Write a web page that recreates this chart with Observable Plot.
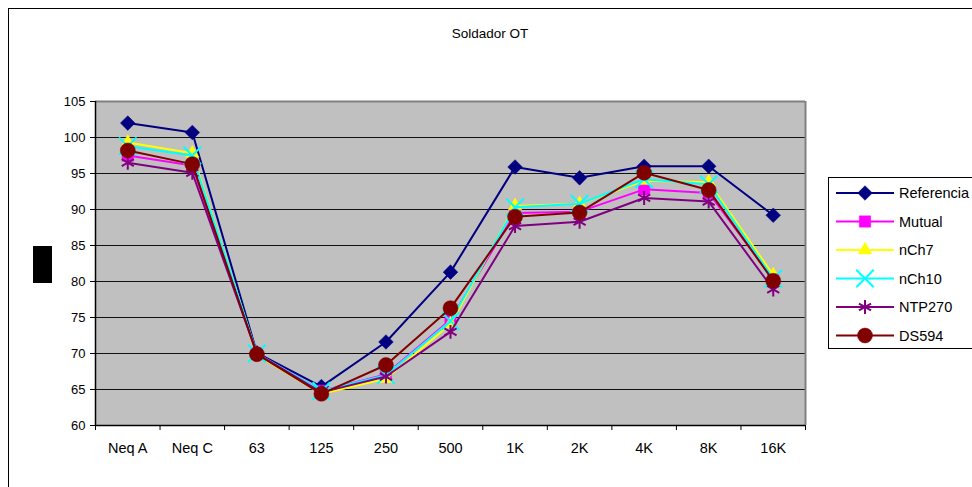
<!DOCTYPE html>
<html>
<head>
<meta charset="utf-8">
<script src="https://cdn.jsdelivr.net/npm/d3@7"></script>
<script src="https://cdn.jsdelivr.net/npm/@observablehq/plot@0.6"></script>
<style>
  html, body { margin: 0; padding: 0; background: #fff; overflow: hidden; }
  #wrap { position: relative; width: 972px; height: 487px; overflow: hidden; }
  #frame { position: absolute; left: 8px; top: 8px; width: 1000px; height: 1000px; border: 1px solid #000; box-sizing: border-box; pointer-events: none; }
  #chart { position: absolute; left: 0; top: 0; }
</style>
</head>
<body>
<div id="wrap"><div id="chart"></div><div id="frame"></div></div>
<script>
const title = "Soldador OT";
const categories = ["Neq A", "Neq C", "63", "125", "250", "500", "1K", "2K", "4K", "8K", "16K"];
const yTicks = [60, 65, 70, 75, 80, 85, 90, 95, 100, 105];
const seriesNames = ["Referencia", "Mutual", "nCh7", "nCh10", "NTP270", "DS594"];
const referencia = [102.0, 100.7, 70.1, 65.4, 71.6, 81.3, 95.9, 94.4, 96.0, 96.0, 89.2];
const mutual     = [97.5, 96.1, 70.0, 64.8, 67.1, 74.7, 89.5, 89.7, 92.8, 92.3, 80.3];
const nch7       = [99.3, 97.8, 69.8, 64.4, 66.5, 74.1, 90.5, 90.8, 94.0, 93.8, 80.9];
const nch10      = [98.8, 97.5, 70.0, 64.8, 67.0, 74.5, 90.3, 90.8, 94.2, 93.5, 80.4];
const ntp270     = [96.5, 95.1, 70.0, 64.6, 66.8, 73.0, 87.7, 88.3, 91.6, 91.1, 78.9];
const ds594      = [98.2, 96.3, 69.9, 64.4, 68.4, 76.3, 89.0, 89.6, 95.1, 92.7, 80.1];

const seriesValues = [referencia, mutual, nch7, nch10, ntp270, ds594];
const colors = ["#000080", "#FF00FF", "#FFFF00", "#00FFFF", "#800080", "#800000"];
const symbols = ["diamond2", "square", "triangle", "times", "asterisk", "circle"];
const radii = [6.6, 6.4, 5.0, 8.0, 6.6, 7.5];
const filled = [true, true, true, false, false, true];

const idx = categories.map((_, i) => i);
const boundaries = d3.range(-0.5, categories.length, 1);

const marks = [
  Plot.frame({fill: "#C0C0C0", stroke: null}),
  Plot.ruleY(yTicks.filter(v => v > 60), {stroke: "#111", strokeWidth: 1}),
  Plot.ruleY([105], {stroke: "#808080", strokeWidth: 2}),
  Plot.ruleX([10.5], {stroke: "#808080", strokeWidth: 2})
];

seriesNames.forEach((name, s) => {
  const rows = idx.map(i => ({x: i, y: seriesValues[s][i], series: name}));
  marks.push(Plot.line(rows, {x: "x", y: "y", stroke: colors[s], strokeWidth: 2}));
  marks.push(Plot.dot(rows, {
    x: "x", y: "y", symbol: () => symbols[s], r: radii[s],
    fill: filled[s] ? colors[s] : "none",
    stroke: colors[s],
    strokeWidth: filled[s] ? 0.5 : 2
  }));
});

marks.push(
  Plot.ruleX([-0.5], {stroke: "#000", strokeWidth: 1.5}),
  Plot.ruleY([60], {stroke: "#000", strokeWidth: 1.5}),
  Plot.axisY({ticks: yTicks, tickSize: 5, tickPadding: 5, fontSize: 13, label: null}),
  Plot.axisX({ticks: boundaries, tickSize: 5, tickFormat: () => "", label: null}),
  Plot.axisX({ticks: idx, tickSize: 0, tickPadding: 17, tickFormat: i => categories[i], fontSize: 14.5, label: null})
);

const svg = Plot.plot({
  width: 972,
  height: 487,
  marginLeft: 95,
  marginRight: 167,
  marginTop: 101,
  marginBottom: 62,
  style: {fontFamily: "'Liberation Sans', Arial, sans-serif", fontSize: "13px", background: "transparent", color: "#000"},
  x: {type: "linear", domain: [-0.5, 10.5]},
  y: {domain: [60, 105]},
  symbol: {type: "identity"},
  marks
});

const s = d3.select(svg);
s.append("text")
  .attr("x", 490).attr("y", 38)
  .attr("text-anchor", "middle")
  .attr("font-size", 13.5)
  .attr("fill", "#000")
  .text(title);

// y-axis label placeholder (rendered as a black block in the reference)
s.append("rect").attr("x", 33).attr("y", 246).attr("width", 19).attr("height", 37).attr("fill", "#000");

// legend
const symMap = {diamond2: d3.symbolDiamond2, square: d3.symbolSquare, triangle: d3.symbolTriangle,
                times: d3.symbolTimes, asterisk: d3.symbolAsterisk, circle: d3.symbolCircle};
const lg = s.append("g").attr("text-anchor", "start");
lg.append("rect").attr("x", 828.5).attr("y", 177.5).attr("width", 160).attr("height", 171)
  .attr("fill", "#fff").attr("stroke", "#000").attr("stroke-width", 1);
seriesNames.forEach((name, i) => {
  const y = 193 + i * 28.5;
  lg.append("line").attr("x1", 836).attr("x2", 894).attr("y1", y).attr("y2", y)
    .attr("stroke", colors[i]).attr("stroke-width", 2);
  const size = Math.PI * radii[i] * radii[i];
  lg.append("path").attr("transform", `translate(865,${y})`)
    .attr("d", d3.symbol(symMap[symbols[i]], size)())
    .attr("fill", filled[i] ? colors[i] : "none")
    .attr("stroke", colors[i])
    .attr("stroke-width", filled[i] ? 0.5 : 2);
  lg.append("text").attr("x", 899).attr("y", y).attr("dy", "0.35em")
    .attr("text-anchor", "start")
    .attr("font-size", 14.5).attr("fill", "#000").text(name);
});

document.getElementById("chart").appendChild(svg);
</script>
</body>
</html>
